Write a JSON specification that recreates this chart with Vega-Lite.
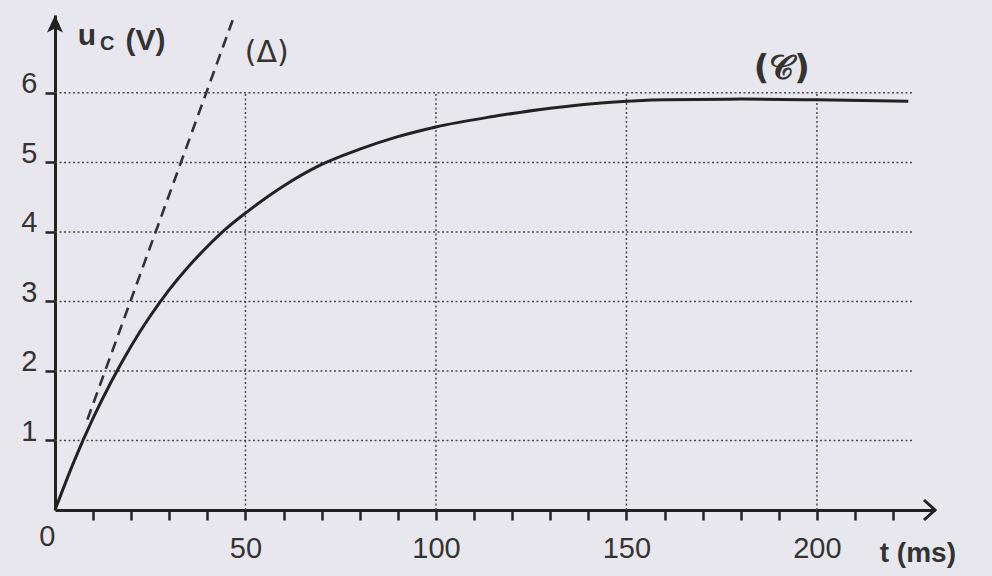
{
  "$schema": "https://vega.github.io/schema/vega-lite/v6.json",
  "autosize": "none",
  "width": 880,
  "height": 495,
  "padding": {"left": 55, "top": 15, "right": 57, "bottom": 66},
  "background": "#e9e7ee",
  "config": {"view": {"stroke": null}, "font": "Liberation Sans"},
  "datasets": {
    "curve": [
      {"t": 0, "u": 0}, {"t": 5, "u": 0.7}, {"t": 10, "u": 1.32}, {"t": 15, "u": 1.87},
      {"t": 20, "u": 2.36}, {"t": 25, "u": 2.79}, {"t": 30, "u": 3.17}, {"t": 35, "u": 3.5},
      {"t": 40, "u": 3.79}, {"t": 45, "u": 4.05}, {"t": 50, "u": 4.27}, {"t": 60, "u": 4.66},
      {"t": 70, "u": 4.97}, {"t": 80, "u": 5.19}, {"t": 90, "u": 5.37}, {"t": 100, "u": 5.51},
      {"t": 115, "u": 5.66}, {"t": 130, "u": 5.78}, {"t": 145, "u": 5.86}, {"t": 160, "u": 5.9},
      {"t": 180, "u": 5.91}, {"t": 200, "u": 5.9}, {"t": 224, "u": 5.88}
    ],
    "tangent": [{"t": 8.5, "u": 1.3}, {"t": 47, "u": 7.1}],
    "hgrid": [{"u": 1}, {"u": 2}, {"u": 3}, {"u": 4}, {"u": 5}, {"u": 6}],
    "vgrid": [{"t": 50}, {"t": 100}, {"t": 150}, {"t": 200}]
  },
  "layer": [
    {
      "data": {"name": "hgrid"},
      "mark": {"type": "rule", "color": "#4a4a4a", "strokeWidth": 1.5, "strokeDash": [2, 2.5]},
      "encoding": {
        "x": {"datum": 0, "type": "quantitative", "scale": {"domain": [0, 231], "nice": false, "zero": true},
          "axis": {
            "values": [0, 10, 20, 30, 40, 50, 60, 70, 80, 90, 100, 110, 120, 130, 140, 150, 160, 170, 180, 190, 200, 210, 220],
            "tickCount": 40,
            "labelExpr": "datum.value % 50 == 0 ? datum.label : ''",
            "labelOverlap": false,
            "title": null, "grid": false,
            "domainColor": "#222", "domainWidth": 3,
            "tickColor": "#222", "tickWidth": 2.5, "tickSize": {"condition": {"test": "datum.value == 0", "value": 0}, "value": 10},
            "labelFont": "Liberation Sans", "labelFontSize": 29, "labelColor": "#333",
            "labelPadding": {"condition": {"test": "datum.value == 0", "value": 12}, "value": 14},
            "labelAlign": {"condition": {"test": "datum.value == 0", "value": "right"}, "value": "center"},
            "labelBaseline": "top"
          }},
        "x2": {"datum": 225},
        "y": {"field": "u", "type": "quantitative", "scale": {"domain": [0, 7.12], "nice": false},
          "axis": {
            "values": [1, 2, 3, 4, 5, 6], "format": "d", "title": null, "grid": false,
            "domainColor": "#222", "domainWidth": 3,
            "tickColor": "#222", "tickWidth": 2.5, "tickSize": 10,
            "labelFont": "Liberation Sans", "labelFontSize": 29, "labelColor": "#333",
            "labelPadding": 8, "labelBaseline": "alphabetic", "labelAlign": "right"
          }}
      }
    },
    {
      "data": {"name": "vgrid"},
      "mark": {"type": "rule", "color": "#4a4a4a", "strokeWidth": 1.5, "strokeDash": [2, 2.5]},
      "encoding": {
        "x": {"field": "t", "type": "quantitative"},
        "y": {"datum": 0},
        "y2": {"datum": 6}
      }
    },
    {
      "data": {"name": "tangent"},
      "mark": {"type": "line", "color": "#333", "strokeWidth": 2.6, "strokeDash": [11, 7]},
      "encoding": {
        "x": {"field": "t", "type": "quantitative"},
        "y": {"field": "u", "type": "quantitative"}
      }
    },
    {
      "data": {"name": "curve"},
      "mark": {"type": "line", "color": "#222", "strokeWidth": 3, "interpolate": "monotone"},
      "encoding": {
        "x": {"field": "t", "type": "quantitative"},
        "y": {"field": "u", "type": "quantitative"}
      }
    },
    {
      "data": {"values": [{"t": 0, "u": 7.12}]},
      "mark": {"type": "point", "shape": "M0,0L-1,2.2L0,1.7L1,2.2Z", "size": 256, "filled": true, "color": "#222", "opacity": 1},
      "encoding": {"x": {"field": "t", "type": "quantitative"}, "y": {"field": "u", "type": "quantitative"}}
    },
    {
      "data": {"values": [{"t": 231, "u": 0}]},
      "mark": {"type": "point", "shape": "M-1.1,-1L0,0L-1.1,1", "size": 400, "filled": false, "color": "#222", "strokeWidth": 3, "opacity": 1},
      "encoding": {"x": {"field": "t", "type": "quantitative"}, "y": {"field": "u", "type": "quantitative"}}
    },
    {
      "data": {"values": [{"t": 6, "u": 6.69, "label": "u"}, {"t": 18.5, "u": 6.62, "label": "(V)"}]},
      "mark": {"type": "text", "align": "left", "baseline": "alphabetic", "font": "Liberation Sans", "fontSize": 30, "fontWeight": "bold", "color": "#333"},
      "encoding": {"x": {"field": "t", "type": "quantitative"}, "y": {"field": "u", "type": "quantitative"}, "text": {"field": "label"}}
    },
    {
      "data": {"values": [{"t": 11.8, "u": 6.62, "label": "C"}]},
      "mark": {"type": "text", "align": "left", "baseline": "alphabetic", "font": "Liberation Sans", "fontSize": 20, "fontWeight": "bold", "color": "#333"},
      "encoding": {"x": {"field": "t", "type": "quantitative"}, "y": {"field": "u", "type": "quantitative"}, "text": {"field": "label"}}
    },
    {
      "data": {"values": [{"t": 55.6, "u": 6.45, "label": "(Δ)"}]},
      "mark": {"type": "text", "align": "center", "baseline": "alphabetic", "font": "DejaVu Sans", "fontSize": 30, "color": "#333"},
      "encoding": {"x": {"field": "t", "type": "quantitative"}, "y": {"field": "u", "type": "quantitative"}, "text": {"field": "label"}}
    },
    {
      "data": {"values": [{"t": 190.8, "u": 6.2, "label": "(𝒞)"}]},
      "mark": {"type": "text", "align": "center", "baseline": "alphabetic", "font": "DejaVu Sans", "fontSize": 34, "fontWeight": "bold", "color": "#333"},
      "encoding": {"x": {"field": "t", "type": "quantitative"}, "y": {"field": "u", "type": "quantitative"}, "text": {"field": "label"}}
    },
    {
      "data": {"values": [{"t": 226.5, "u": -0.75, "label": "t (ms)"}]},
      "mark": {"type": "text", "align": "center", "baseline": "alphabetic", "font": "Liberation Sans", "fontSize": 28, "fontWeight": "bold", "color": "#333"},
      "encoding": {"x": {"field": "t", "type": "quantitative"}, "y": {"field": "u", "type": "quantitative"}, "text": {"field": "label"}}
    }
  ]
}
